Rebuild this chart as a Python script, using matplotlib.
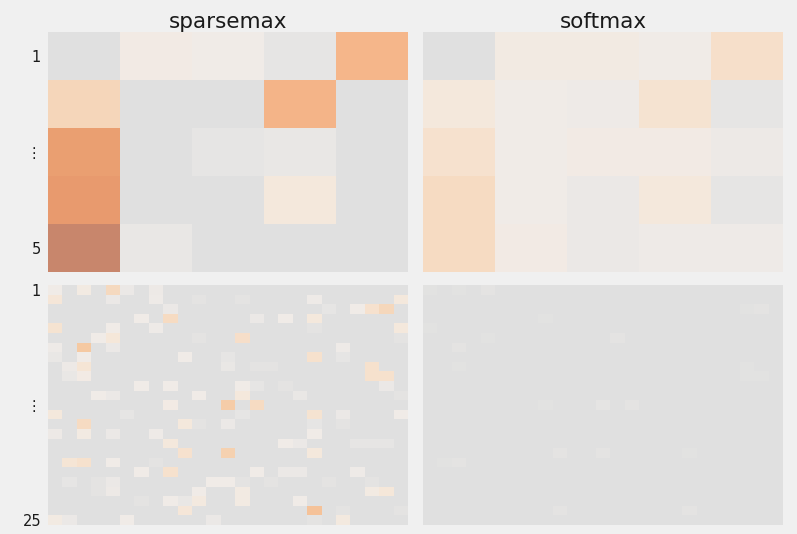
import numpy as np
import matplotlib
matplotlib.use('Agg')
from matplotlib import pyplot as plt
from matplotlib.colors import LinearSegmentedColormap

# attention weights (rows = queries, cols = keys)
sparsemax_small = [
    [0.00, 0.09, 0.08, 0.03, 0.55],
    [0.28, 0.00, 0.00, 0.56, 0.00],
    [0.72, 0.00, 0.03, 0.04, 0.00],
    [0.78, 0.00, 0.00, 0.12, 0.00],
    [1.00, 0.04, 0.00, 0.00, 0.00],
]
softmax_small = [
    [0.00, 0.10, 0.10, 0.08, 0.20],
    [0.12, 0.08, 0.07, 0.17, 0.03],
    [0.18, 0.08, 0.09, 0.09, 0.06],
    [0.24, 0.08, 0.05, 0.12, 0.03],
    [0.24, 0.09, 0.05, 0.07, 0.07],
]

# 25x25: non-zero cells only, (row, col, value)
sparsemax_big_cells = [
    (0, 0, 0.08), (0, 2, 0.10), (0, 4, 0.25), (0, 5, 0.05), (0, 7, 0.06),
    (1, 0, 0.14), (1, 4, 0.05), (1, 7, 0.07), (1, 10, 0.02), (1, 13, 0.02), (1, 18, 0.07), (1, 24, 0.12),
    (2, 8, 0.05), (2, 19, 0.03), (2, 21, 0.08), (2, 22, 0.18), (2, 23, 0.27),
    (3, 6, 0.08), (3, 8, 0.24), (3, 14, 0.05), (3, 16, 0.08), (3, 18, 0.12),
    (4, 0, 0.17), (4, 4, 0.08), (4, 7, 0.07), (4, 18, 0.02), (4, 24, 0.12),
    (5, 3, 0.08), (5, 4, 0.13), (5, 10, 0.02), (5, 13, 0.21), (5, 24, 0.02),
    (6, 0, 0.07), (6, 2, 0.40), (6, 4, 0.05), (6, 20, 0.07),
    (7, 0, 0.04), (7, 2, 0.08), (7, 9, 0.08), (7, 12, 0.03), (7, 18, 0.19), (7, 20, 0.03),
    (8, 1, 0.06), (8, 2, 0.15), (8, 12, 0.04), (8, 14, 0.02), (8, 15, 0.02), (8, 22, 0.19),
    (9, 1, 0.04), (9, 2, 0.09), (9, 22, 0.19), (9, 23, 0.19),
    (10, 6, 0.08), (10, 8, 0.08), (10, 13, 0.08), (10, 14, 0.03), (10, 16, 0.02), (10, 23, 0.05),
    (11, 3, 0.08), (11, 4, 0.05), (11, 10, 0.08), (11, 13, 0.12), (11, 17, 0.04), (11, 24, 0.02),
    (12, 8, 0.09), (12, 12, 0.37), (12, 14, 0.24),
    (13, 0, 0.12), (13, 5, 0.03), (13, 13, 0.03), (13, 18, 0.17), (13, 20, 0.05), (13, 24, 0.08),
    (14, 2, 0.24), (14, 9, 0.12), (14, 10, 0.02), (14, 12, 0.05), (14, 18, 0.03), (14, 20, 0.02),
    (15, 0, 0.06), (15, 2, 0.10), (15, 4, 0.05), (15, 7, 0.07), (15, 18, 0.08),
    (16, 8, 0.12), (16, 16, 0.08), (16, 17, 0.05), (16, 21, 0.03), (16, 22, 0.03), (16, 23, 0.03),
    (17, 9, 0.18), (17, 12, 0.33), (17, 18, 0.12),
    (18, 1, 0.15), (18, 2, 0.19), (18, 4, 0.08), (18, 7, 0.02),
    (19, 6, 0.08), (19, 8, 0.19), (19, 14, 0.08), (19, 16, 0.05), (19, 17, 0.05), (19, 21, 0.07),
    (20, 1, 0.03), (20, 3, 0.02), (20, 4, 0.05), (20, 11, 0.08), (20, 12, 0.08), (20, 13, 0.02),
    (20, 15, 0.02), (20, 19, 0.02), (20, 22, 0.02),
    (21, 3, 0.02), (21, 4, 0.06), (21, 10, 0.08), (21, 13, 0.10), (21, 22, 0.10), (21, 23, 0.13),
    (22, 6, 0.02), (22, 8, 0.08), (22, 9, 0.04), (22, 10, 0.11), (22, 13, 0.10), (22, 17, 0.08),
    (23, 9, 0.14), (23, 18, 0.45), (23, 20, 0.02), (23, 24, 0.02),
    (24, 0, 0.10), (24, 1, 0.05), (24, 5, 0.08), (24, 11, 0.05), (24, 18, 0.02), (24, 20, 0.11),
]
softmax_big_cells = [
    (0, 0, 0.015), (0, 2, 0.015), (0, 4, 0.02), (2, 22, 0.015), (2, 23, 0.02),
    (3, 8, 0.015), (4, 0, 0.015), (5, 4, 0.015), (5, 13, 0.02), (6, 2, 0.02),
    (8, 2, 0.015), (8, 22, 0.015), (9, 22, 0.015), (9, 23, 0.015),
    (12, 8, 0.012), (12, 12, 0.025), (12, 14, 0.02),
    (17, 9, 0.02), (17, 12, 0.02), (17, 18, 0.012), (18, 1, 0.012), (18, 2, 0.02),
    (23, 9, 0.02), (23, 18, 0.02),
]

small_ticks = ['1', '⋮', '5']
big_ticks = ['1', '⋮', '25']
titles = ['sparsemax', 'softmax']

# gray for zero, warm off-white, peach, orange, brown at the top
cmap = LinearSegmentedColormap.from_list('attn', [
    (0.00, '#e0e0e0'), (0.04, '#eae8e6'), (0.08, '#f1ece8'), (0.12, '#f5e8dc'),
    (0.18, '#f6e2cf'), (0.25, '#f6dac0'), (0.40, '#f5c9a2'), (0.55, '#f5b68a'),
    (0.72, '#eba072'), (0.80, '#e8996d'), (1.00, '#c8866c'),
])


def to_matrix(cells, n=25):
    m = np.zeros((n, n))
    for r, c, v in cells:
        m[r, c] = v
    return m


bg = '#f0f0f0'
fig = plt.figure(figsize=(7.97, 5.34), dpi=100, facecolor=bg)

W, H = 797, 534
def add_axes(x0, y0, w, h):
    return fig.add_axes([x0 / W, (H - y0 - h) / H, w / W, h / H])

mats = [[np.array(sparsemax_small), np.array(softmax_small)],
        [to_matrix(sparsemax_big_cells), to_matrix(softmax_big_cells)]]
lefts = [48, 423]
tops = [32, 285]

for i in range(2):
    for j in range(2):
        ax = add_axes(lefts[j], tops[i], 360, 240)
        m = mats[i][j]
        ax.imshow(m, cmap=cmap, vmin=0, vmax=1, aspect='auto', interpolation='nearest')
        ax.set_facecolor(bg)
        for s in ax.spines.values():
            s.set_visible(False)
        ax.set_xticks([])
        n = m.shape[0]
        if j == 0:
            ax.set_yticks([0, (n - 1) / 2, n - 1])
            ax.set_yticklabels(small_ticks if i == 0 else big_ticks, fontsize=10.5, color='#1a1a1a')
            ax.tick_params(axis='y', length=0, pad=5)
        else:
            ax.set_yticks([])
        if i == 0:
            ax.set_title(titles[j], fontsize=15.5, pad=2, color='#1a1a1a')

fig.savefig('out.png', dpi=100, facecolor=bg)
